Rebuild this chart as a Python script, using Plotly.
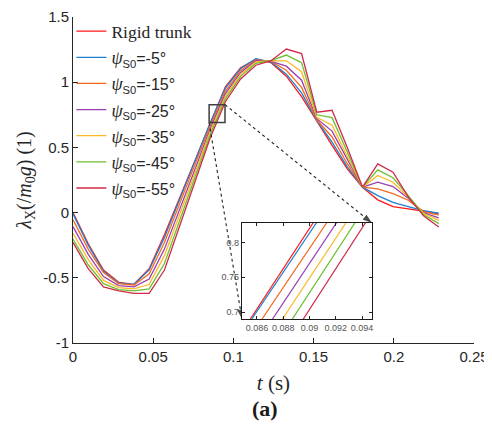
import plotly.graph_objects as go

# ---------------- data ----------------
t = [0, 0.0095, 0.019, 0.0285, 0.038, 0.0475, 0.057, 0.0665, 0.076, 0.0855,
     0.095, 0.1045, 0.114, 0.1235, 0.133, 0.1425, 0.152, 0.1615, 0.171, 0.1805,
     0.19, 0.1995, 0.209, 0.2185, 0.228]

rigid = [0.0, -0.24, -0.44, -0.535, -0.55, -0.43, -0.17, 0.115, 0.40, 0.69,
         0.965, 1.11, 1.175, 1.15, 1.046, 0.89, 0.70, 0.515, 0.336, 0.195,
         0.098, 0.046, 0.028, 0.012, -0.01]
psi_m5 = [-0.01, -0.25, -0.45, -0.54, -0.55, -0.44, -0.19, 0.10, 0.39, 0.687,
          0.954, 1.105, 1.18, 1.155, 1.062, 0.918, 0.705, 0.54, 0.35, 0.195,
          0.13, 0.079, 0.046, 0.015, -0.005]
psi_m15 = [-0.056, -0.28, -0.46, -0.545, -0.555, -0.47, -0.23, 0.065, 0.36, 0.665,
           0.932, 1.09, 1.17, 1.16, 1.092, 0.96, 0.71, 0.58, 0.375, 0.195,
           0.182, 0.146, 0.095, 0.008, -0.02]
psi_m25 = [-0.108, -0.32, -0.49, -0.56, -0.57, -0.51, -0.28, 0.02, 0.33, 0.642,
           0.912, 1.075, 1.165, 1.16, 1.123, 1.015, 0.72, 0.625, 0.413, 0.195,
           0.233, 0.2, 0.11, 0.0, -0.04]
psi_m35 = [-0.159, -0.36, -0.52, -0.575, -0.585, -0.55, -0.33, -0.02, 0.30, 0.62,
           0.892, 1.06, 1.155, 1.165, 1.164, 1.08, 0.73, 0.67, 0.438, 0.195,
           0.285, 0.233, 0.12, -0.005, -0.06]
psi_m45 = [-0.203, -0.40, -0.545, -0.59, -0.60, -0.585, -0.39, -0.06, 0.27, 0.597,
           0.873, 1.045, 1.145, 1.165, 1.208, 1.15, 0.75, 0.728, 0.464, 0.195,
           0.328, 0.267, 0.13, -0.015, -0.085]
psi_m55 = [-0.228, -0.43, -0.57, -0.60, -0.62, -0.62, -0.44, -0.10, 0.24, 0.572,
           0.85, 1.025, 1.13, 1.165, 1.254, 1.22, 0.77, 0.785, 0.50, 0.195,
           0.374, 0.31, 0.12, -0.025, -0.11]

series_names = ["Rigid trunk", "-5°", "-15°", "-25°", "-35°", "-45°", "-55°"]
series_values = [rigid, psi_m5, psi_m15, psi_m25, psi_m35, psi_m45, psi_m55]
colors = ["#ff1a1a", "#1f80d0", "#f46a1f", "#9a3fae", "#fdb827", "#6cbf2e", "#d02a4a"]

x_ticks = [0, 0.05, 0.1, 0.15, 0.2, 0.25]
x_ticktext = ["0", "0.05", "0.1", "0.15", "0.2", "0.25"]
y_ticks = [-1, -0.5, 0, 0.5, 1, 1.5]
y_ticktext = ["-1", "-0.5", "0", "0.5", "1", "1.5"]

inset_x_range = [0.08486, 0.09476]
inset_y_range = [0.69, 0.828]
inset_x_ticks = [0.086, 0.088, 0.09, 0.092, 0.094]
inset_x_ticktext = ["0.086", "0.088", "0.09", "0.092", "0.094"]
inset_y_ticks = [0.7, 0.75, 0.8]
inset_y_ticktext = ["0.7", "0.75", "0.8"]

main_x_range = [0, 0.25]
main_y_range = [-1, 1.5]
inset_xdomain = [0.4214, 0.7456]
inset_ydomain = [0.0736, 0.368]

SERIF = "Liberation Serif"
SANS = "Liberation Sans"

fig = go.Figure()

for name, vals, col in zip(series_names, series_values, colors):
    if name == "Rigid trunk":
        label = f'<span style="font-family:{SERIF};font-size:17.5px">Rigid trunk</span>'
    else:
        label = (f'<span style="font-family:{SERIF};font-size:18px"><i>ψ</i></span>'
                 f'<span style="font-size:16px"><sub>S0</sub>={name}</span>')
    fig.add_trace(go.Scatter(x=t, y=vals, mode="lines", name=label,
                             line=dict(color=col, width=1.3),
                             xaxis="x", yaxis="y"))

for vals, col in zip(series_values, colors):
    fig.add_trace(go.Scatter(x=t, y=vals, mode="lines", showlegend=False,
                             line=dict(color=col, width=1.2),
                             xaxis="x2", yaxis="y2", hoverinfo="skip"))


def to_main_x(d):
    return main_x_range[0] + d * (main_x_range[1] - main_x_range[0])


def to_main_y(d):
    return main_y_range[0] + d * (main_y_range[1] - main_y_range[0])


connectors = [
    ((inset_x_range[1], inset_y_range[1]), (to_main_x(inset_xdomain[1]), to_main_y(inset_ydomain[1]))),
    ((inset_x_range[0], inset_y_range[0]), (to_main_x(inset_xdomain[0]), to_main_y(inset_ydomain[0]))),
]
for (x0, y0), (x1, y1) in connectors:
    fig.add_trace(go.Scatter(
        x=[x0, x1], y=[y0, y1], mode="lines+markers", showlegend=False,
        hoverinfo="skip",
        line=dict(color="#222222", width=1.1, dash="dot"),
        marker=dict(symbol=["circle", "arrow"], size=[5, 10], color="black",
                    angleref="previous", line=dict(width=0)),
        xaxis="x", yaxis="y"))

fig.add_shape(type="rect", xref="x", yref="y",
              x0=inset_x_range[0], x1=inset_x_range[1],
              y0=inset_y_range[0], y1=inset_y_range[1],
              line=dict(color="#404040", width=1.5))

axis_font = dict(family=SANS, size=15, color="#262626")

fig.update_layout(
    width=484, height=416,
    margin=dict(l=65, r=18, t=9, b=81, autoexpand=False),
    paper_bgcolor="white", plot_bgcolor="white",
    showlegend=True,
    legend=dict(x=-0.004, y=1.012, xanchor="left", yanchor="top",
                bgcolor="rgba(0,0,0,0)", borderwidth=0,
                font=dict(family=SANS, size=17.8, color="#262626"),
                tracegroupgap=0, itemwidth=30),
    xaxis=dict(domain=[0, 1], range=main_x_range, tickvals=x_ticks, ticktext=x_ticktext,
               automargin=False, ticklabeloverflow="allow",
               ticks="inside", ticklen=5, tickcolor="#262626",
               showline=True, linecolor="#262626", linewidth=1,
               showgrid=False, zeroline=False, tickfont=axis_font,
               title=dict(text="<i>t</i> (s)", font=dict(family=SERIF, size=21, color="#262626"),
                          standoff=11)),
    yaxis=dict(domain=[0, 1], range=main_y_range, tickvals=y_ticks, ticktext=y_ticktext,
               automargin=False,
               ticks="inside", ticklen=5, tickcolor="#262626",
               showline=True, linecolor="#262626", linewidth=1,
               showgrid=False, zeroline=False, tickfont=axis_font,
               title=dict(text="<i>λ</i><sub>X</sub>(/<i>m</i><sub>0</sub><i>g</i>) (1)",
                          font=dict(family=SERIF, size=20, color="#262626"),
                          standoff=6)),
    xaxis2=dict(domain=inset_xdomain, anchor="y2", range=inset_x_range,
                tickvals=inset_x_ticks, ticktext=inset_x_ticktext, automargin=False,
                ticks="inside", ticklen=3, tickcolor="#262626",
                showline=True, mirror="ticks", linecolor="#1a1a1a", linewidth=1.2,
                showgrid=False, zeroline=False,
                tickfont=dict(family=SANS, size=9, color="#555555")),
    yaxis2=dict(domain=inset_ydomain, anchor="x2", range=inset_y_range,
                tickvals=inset_y_ticks, ticktext=inset_y_ticktext, automargin=False,
                ticks="inside", ticklen=3, tickcolor="#262626",
                showline=True, mirror="ticks", linecolor="#1a1a1a", linewidth=1.2,
                showgrid=False, zeroline=False,
                tickfont=dict(family=SANS, size=9, color="#555555")),
    annotations=[dict(text="<b>(a)</b>", xref="paper", yref="paper",
                      x=0.479, y=-0.202, xanchor="center", yanchor="middle",
                      showarrow=False,
                      font=dict(family=SERIF, size=22, color="#1a1a1a"))],
)

fig.write_html("out.html", post_script="document.body.style.overflow='hidden';")
